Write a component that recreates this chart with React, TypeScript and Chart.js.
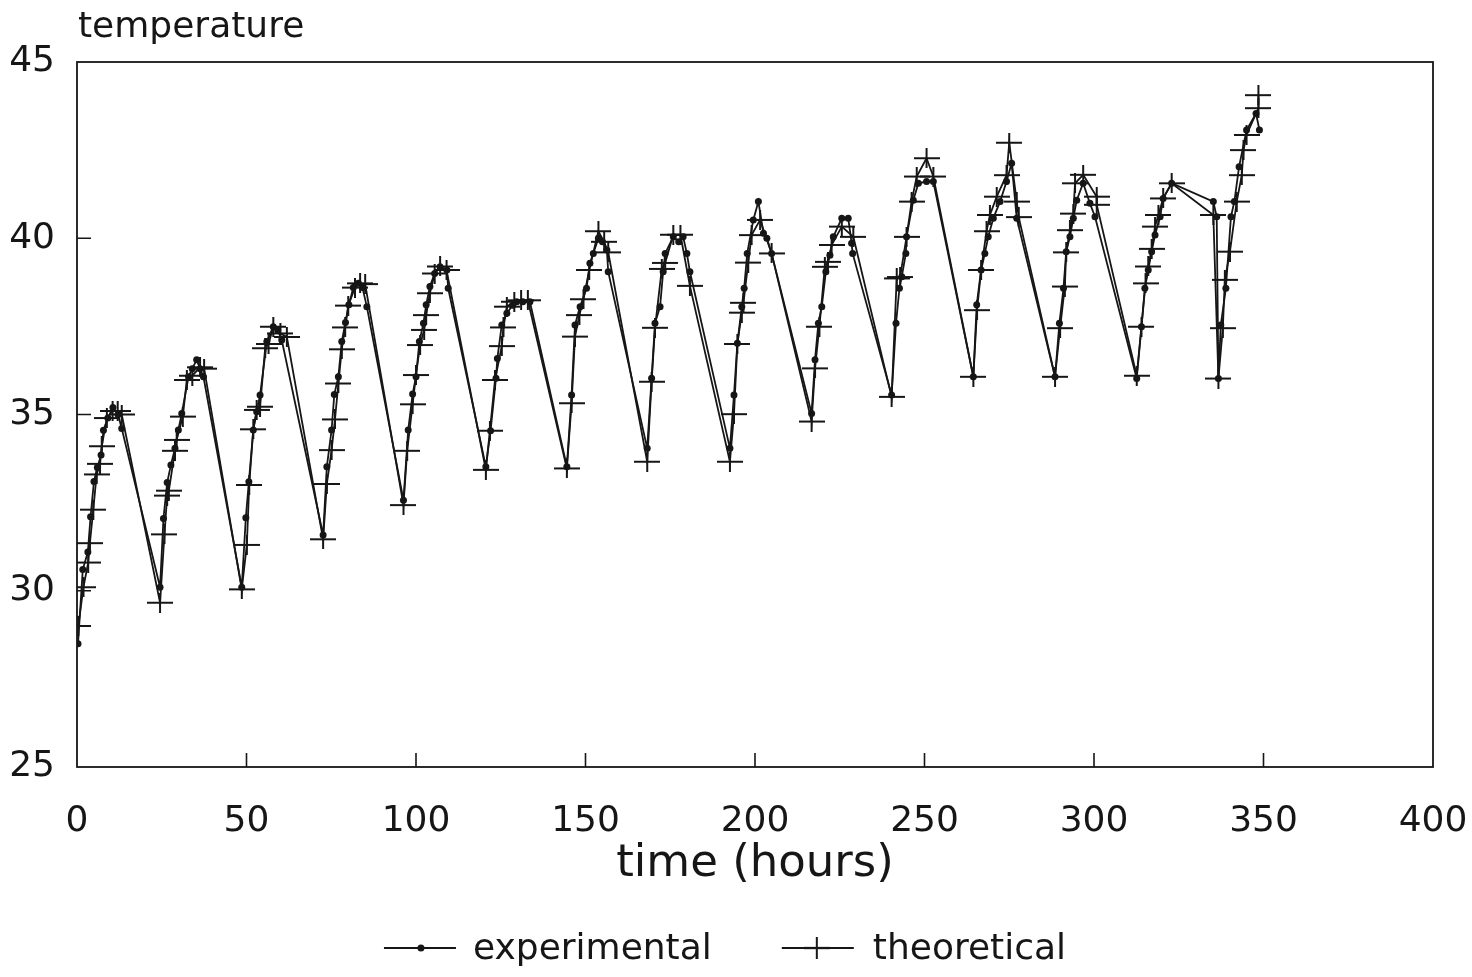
import React, { useEffect, useRef } from 'react';
import { Chart, registerables } from 'chart.js';

Chart.register(...registerables);

// ---- data ----
const expTime = [
  0.3, 1.7, 3.2, 4.0, 5.0, 6.0, 7.1, 7.8, 9.1, 10.6, 12.1, 13.2,
  24.5, 25.5, 26.6, 27.7, 28.9, 29.9, 30.9, 32.9, 34.0, 35.3, 36.3, 37.3,
  48.6, 49.8, 50.7, 52.0, 53.0, 54.0, 56.0, 57.9, 59.2, 60.4,
  72.6, 73.7, 75.1, 75.9, 77.1, 78.1, 79.2, 80.2, 81.5, 83.0, 84.2, 85.5,
  96.3, 97.7, 99.0, 100.0, 101.0, 102.2, 103.0, 104.1, 105.5, 107.1, 109.1, 109.5,
  120.6, 122.0, 123.6, 124.0, 125.3, 126.8, 128.5, 129.7, 131.5, 133.6,
  144.5, 145.9, 146.9, 148.4, 150.3, 151.3, 152.3, 153.8, 155.0, 156.3, 156.7,
  168.2, 169.5, 170.5, 172.0, 172.9, 173.5, 175.9, 177.5, 178.8, 179.9, 180.8,
  192.6, 193.8, 194.8, 196.1, 196.8, 197.7, 199.5, 201.0, 202.5, 203.5, 204.9,
  216.7, 217.7, 218.7, 219.7, 220.9, 222.1, 223.1, 225.6, 227.5, 228.5, 228.8,
  240.3, 241.6, 242.6, 243.3, 244.5, 244.7, 246.7, 248.2, 250.6, 252.6,
  264.4, 265.4, 266.7, 267.8, 268.8, 270.3, 272.3, 274.2, 275.7, 277.2,
  288.5, 289.8, 291.0, 291.8, 292.9, 293.9, 294.9, 296.8, 298.8, 300.3,
  312.6, 314.0, 315.0, 316.0, 317.0, 318.0, 319.5, 320.4, 322.9, 335.2, 336.2, 336.7,
  337.4, 338.9, 340.4, 341.4, 342.8, 345.0, 347.8, 348.8,
];
const expTemp = [
  28.5, 30.6, 31.1, 32.1, 33.1, 33.5, 33.85, 34.55, 34.9, 35.2, 35.0, 34.6,
  30.1, 32.05, 33.07, 33.57, 34.04, 34.56, 35.03, 36.07, 36.3, 36.55, 36.3, 36.07,
  30.1, 32.07, 33.09, 34.56, 35.08, 35.55, 37.07, 37.49, 37.4, 37.11,
  31.58, 33.52, 34.56, 35.57, 36.07, 37.07, 37.61, 38.11, 38.6, 38.72, 38.6, 38.06,
  32.57, 34.56, 35.58, 36.07, 37.07, 37.59, 38.11, 38.63, 39.0, 39.19, 39.1, 38.58,
  33.52, 34.54, 36.03, 36.59, 37.54, 37.87, 38.1, 38.2, 38.2, 38.2,
  33.52, 35.55, 37.54, 38.06, 38.58, 39.29, 39.57, 40.0, 39.9, 39.67, 39.05,
  34.04, 36.03, 37.59, 38.06, 39.05, 39.57, 40.04, 39.9, 40.04, 39.57, 39.05,
  34.04, 35.55, 37.02, 38.06, 38.58, 39.57, 40.52, 41.04, 40.14, 40.0, 39.57,
  35.03, 36.55, 37.59, 38.06, 39.05, 39.52, 40.04, 40.57, 40.57, 39.86, 39.57,
  35.55, 37.59, 38.58, 38.91, 39.57, 40.04, 41.08, 41.56, 41.61, 41.61,
  36.07, 38.11, 39.1, 39.57, 40.04, 40.57, 41.04, 41.61, 42.13, 40.57,
  36.07, 37.59, 38.58, 39.62, 40.04, 40.57, 41.08, 41.56, 40.99, 40.61,
  36.02, 37.49, 38.58, 39.1, 39.62, 40.09, 40.61, 41.13, 41.56, 41.04, 40.61, 36.02,
  37.54, 38.58, 40.61, 41.04, 42.03, 43.07, 43.54, 43.07,
];

const theoTime = [
  0.4, 1.9, 3.3, 3.8, 4.8, 5.8, 6.8, 7.3, 8.8, 10.5, 12.0, 13.2,
  24.5, 25.8, 26.6, 27.1, 28.9, 29.4, 31.2, 32.4, 34.0, 36.3, 37.5,
  48.6, 50.1, 50.8, 52.0, 53.0, 54.0, 55.5, 56.5, 57.9, 60.0, 61.9,
  72.6, 73.7, 75.1, 76.1, 77.1, 78.1, 79.1, 80.0, 82.0, 83.5, 85.0,
  96.3, 97.4, 99.0, 100.0, 101.2, 102.4, 103.0, 104.1, 105.5, 107.1, 109.0,
  120.6, 121.8, 123.3, 125.3, 125.8, 126.8, 129.0, 131.0, 133.0,
  144.5, 145.9, 146.9, 148.2, 149.4, 151.1, 153.8, 155.5, 156.7,
  168.2, 169.5, 170.5, 172.5, 173.5, 175.9, 178.0, 180.8,
  192.6, 193.8, 194.8, 196.1, 196.6, 198.0, 199.0, 201.5, 204.9,
  216.7, 217.7, 219.0, 220.6, 221.5, 222.6, 225.6, 229.0,
  240.3, 241.8, 242.8, 244.7, 246.2, 247.7, 250.6, 252.6,
  264.4, 265.5, 266.7, 268.3, 269.3, 271.3, 274.2, 275.0, 277.2, 277.8,
  288.5, 290.0, 291.4, 291.8, 292.9, 293.9, 294.4, 296.8, 300.8, 300.8,
  312.6, 314.0, 315.2, 316.0, 317.0, 318.0, 319.0, 320.4, 322.9, 335.2, 336.7,
  338.0, 338.6, 340.1, 342.1, 343.6, 344.1, 345.0, 348.5, 348.5,
];
const theoTemp = [
  29.0, 30.1, 30.8, 31.35, 32.3, 33.3, 33.6, 34.1, 34.9, 35.1, 35.1, 35.0,
  29.66, 31.6, 32.7, 32.84, 33.97, 34.28, 34.94, 35.98, 36.1, 36.34, 36.3,
  30.04, 31.3, 33.0, 34.58, 35.13, 35.22, 36.88, 37.0, 37.49, 37.3, 37.2,
  31.46, 33.03, 33.99, 34.86, 35.88, 36.85, 37.47, 38.09, 38.6, 38.72, 38.7,
  32.43, 33.97, 35.29, 36.12, 36.97, 37.4, 37.82, 38.44, 39.0, 39.2, 39.1,
  33.43, 34.54, 35.98, 36.94, 37.47, 38.06, 38.2, 38.24, 38.24,
  33.47, 35.32, 37.21, 37.82, 38.27, 39.1, 40.2, 39.9, 39.6,
  33.66, 35.93, 37.46, 39.13, 39.3, 40.1, 40.1, 38.65,
  33.66, 35.01, 37.0, 37.89, 38.17, 39.31, 40.09, 40.52, 39.57,
  34.8, 36.31, 37.49, 39.19, 39.33, 39.81, 40.33, 40.04,
  35.5, 38.86, 38.9, 40.04, 41.04, 41.75, 42.27, 41.75,
  36.07, 37.96, 39.1, 40.2, 40.66, 41.18, 41.79, 42.71, 41.04, 40.6,
  36.07, 37.45, 38.63, 39.6, 40.23, 40.7, 41.56, 41.8, 41.18, 40.95,
  36.1, 37.49, 38.72, 39.2, 39.7, 40.33, 40.66, 41.13, 41.56, 40.66, 36.02,
  37.45, 38.82, 39.62, 41.04, 41.79, 42.5, 42.93, 43.69, 44.06,
];

const xTicks = [0, 50, 100, 150, 200, 250, 300, 350, 400];
const yTicks = [25, 30, 35, 40, 45];
const seriesNames = ['experimental', 'theoretical'];
const xTitle = 'time (hours)';
const yTitle = 'temperature';

const INK = '#161616';
const FONT = '"DejaVu Sans", sans-serif';

function makeCross(w: number, h: number, lw: number): HTMLCanvasElement {
  const c = document.createElement('canvas');
  c.width = w;
  c.height = h;
  const g = c.getContext('2d')!;
  g.strokeStyle = INK;
  g.lineWidth = lw;
  g.beginPath();
  g.moveTo(0, h / 2);
  g.lineTo(w, h / 2);
  g.moveTo(w / 2, 0);
  g.lineTo(w / 2, h);
  g.stroke();
  return c;
}

export default function App() {
  const ref = useRef<HTMLCanvasElement>(null);

  useEffect(() => {
    const cross = makeCross(26, 20, 2);

    const decorPlugin = {
      id: 'decor',
      beforeDatasetsDraw(chart: any) {
        const { ctx, chartArea: a, scales } = chart;
        ctx.save();
        ctx.strokeStyle = INK;
        ctx.lineWidth = 1.8;
        ctx.strokeRect(a.left, a.top, a.right - a.left, a.bottom - a.top);
        ctx.lineWidth = 1.6;
        ctx.beginPath();
        xTicks.slice(1, -1).forEach((v) => {
          const px = scales.x.getPixelForValue(v);
          ctx.moveTo(px, a.bottom);
          ctx.lineTo(px, a.bottom - 14);
        });
        yTicks.slice(1, -1).forEach((v) => {
          const py = scales.y.getPixelForValue(v);
          ctx.moveTo(a.left, py);
          ctx.lineTo(a.left + 14, py);
        });
        ctx.stroke();
        ctx.restore();
      },
      afterDraw(chart: any) {
        const { ctx, chartArea: a } = chart;
        ctx.save();
        ctx.fillStyle = INK;
        // y title
        ctx.font = `36px ${FONT}`;
        ctx.textBaseline = 'alphabetic';
        ctx.textAlign = 'left';
        ctx.fillText(yTitle, a.left + 1, 37);

        // legend
        const cy = 948;
        ctx.font = `36px ${FONT}`;
        ctx.textBaseline = 'middle';
        const sample = 72;
        const w1 = ctx.measureText(seriesNames[0]).width;
        const w2 = ctx.measureText(seriesNames[1]).width;
        const total = sample + 17 + w1 + 70 + sample + 19 + w2;
        let x = chart.width / 2 - 11 - total / 2;
        ctx.strokeStyle = INK;
        ctx.lineWidth = 1.8;
        ctx.beginPath();
        ctx.moveTo(x, cy);
        ctx.lineTo(x + sample, cy);
        ctx.stroke();
        ctx.beginPath();
        ctx.arc(x + 37, cy, 3.5, 0, Math.PI * 2);
        ctx.fill();
        x += sample + 17;
        ctx.fillText(seriesNames[0], x, cy + 2);
        x += w1 + 70;
        ctx.beginPath();
        ctx.moveTo(x, cy);
        ctx.lineTo(x + sample, cy);
        ctx.stroke();
        ctx.drawImage(cross, x + 35 - 13, cy - 11, 26, 22);
        x += sample + 19;
        ctx.fillText(seriesNames[1], x, cy + 2);
        ctx.restore();
      },
    };

    const chart = new Chart(ref.current!, {
      type: 'line',
      data: {
        datasets: [
          {
            label: seriesNames[1],
            data: theoTime.map((t, i) => ({ x: t, y: theoTemp[i] })),
            borderColor: INK,
            borderWidth: 1.8,
            pointStyle: cross as any,
            pointRadius: 7,
            tension: 0,
          },
          {
            label: seriesNames[0],
            data: expTime.map((t, i) => ({ x: t, y: expTemp[i] })),
            borderColor: INK,
            backgroundColor: INK,
            borderWidth: 1.8,
            pointStyle: 'circle',
            pointRadius: 3.5,
            pointBorderWidth: 0,
            pointBackgroundColor: INK,
            tension: 0,
          },
        ],
      },
      options: {
        animation: false,
        responsive: true,
        maintainAspectRatio: false,
        events: [],
        layout: { padding: { top: 62, right: 39, bottom: 80, left: 0 } },
        plugins: {
          legend: { display: false },
          title: { display: false },
          tooltip: { enabled: false },
        },
        scales: {
          x: {
            type: 'linear',
            min: 0,
            max: 400,
            grid: { display: false },
            border: { display: false },
            afterBuildTicks: (axis: any) => {
              axis.ticks = xTicks.map((v) => ({ value: v }));
            },
            afterFit: (axis: any) => {
              axis.height = 130;
              axis.paddingLeft = 0;
              axis.paddingRight = 0;
            },
            ticks: {
              color: INK,
              font: { family: FONT, size: 36 },
              padding: 25,
              maxRotation: 0,
              autoSkip: false,
            },
            title: {
              display: true,
              text: xTitle,
              color: INK,
              font: { family: FONT, size: 45 },
              padding: { top: 0, bottom: 6 },
            },
          },
          y: {
            type: 'linear',
            min: 25,
            max: 45,
            grid: { display: false },
            border: { display: false },
            afterBuildTicks: (axis: any) => {
              axis.ticks = yTicks.map((v) => ({ value: v }));
            },
            afterFit: (axis: any) => {
              axis.width = 77;
              axis.paddingTop = 0;
              axis.paddingBottom = 0;
            },
            ticks: {
              color: INK,
              font: { family: FONT, size: 36 },
              padding: 14,
              autoSkip: false,
            },
          },
        },
      },
      plugins: [decorPlugin],
    });

    return () => chart.destroy();
  }, []);

  return (
    <div style={{ position: 'fixed', left: 0, top: 0, width: 1472, height: 977, background: '#fff' }}>
      <canvas ref={ref} />
    </div>
  );
}
